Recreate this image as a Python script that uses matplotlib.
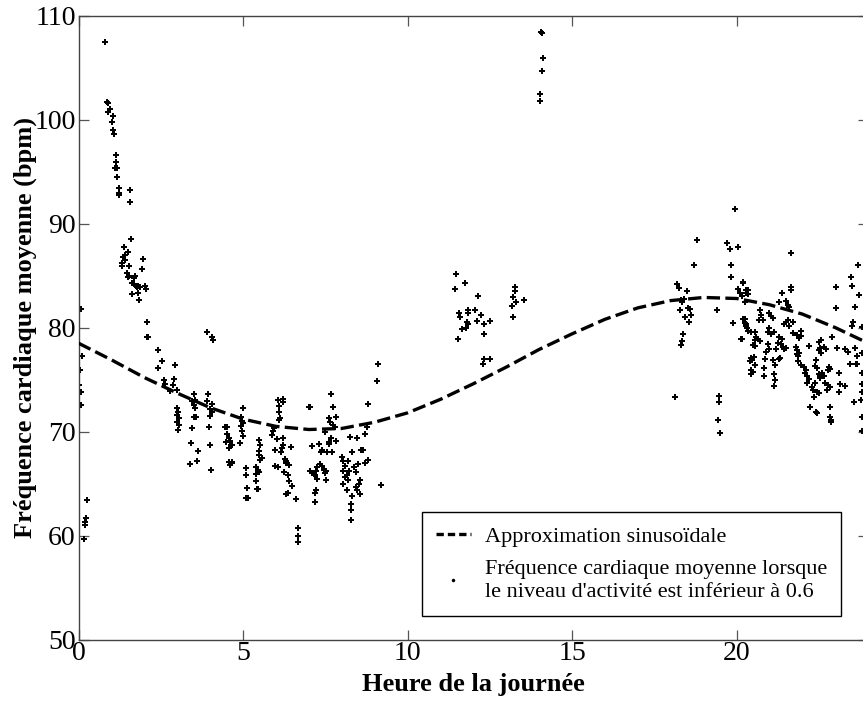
import matplotlib
matplotlib.use("Agg")
import matplotlib.pyplot as plt
from matplotlib.lines import Line2D

plt.rcParams['font.family'] = ['Liberation Serif', 'DejaVu Serif']

# Sinusoidal fit (hour -> bpm)
fit_hours = list(range(0, 25))
fit_bpm = [78.5, 76.9, 75.2, 73.7, 72.3, 71.2, 70.5, 70.2, 70.3, 70.9, 71.8,
           73.1, 74.6, 76.2, 77.9, 79.4, 80.8, 81.9, 82.6, 82.9, 82.8, 82.2,
           81.3, 80.0, 78.5]

# Mean heart rate while activity level < 0.6 (hour, bpm)
pts_early = [(0.04,75.9),(0.06,73.8),(0.07,72.6),(0.1,77.3),(0.08,81.8),(0.25,63.4),(0.23,61.7),
             (0.21,61.3),(0.21,61.0),(0.18,59.7),(0.02,74.5)]
pts_peak = [(0.81,107.5),(0.86,101.7),(0.9,101.6),(0.9,100.7),(0.95,101.0),(1.06,100.4),(1.01,99.75),
            (1.06,99.0),(1.09,98.6),(1.13,96.6),(1.13,95.9),(1.1,95.35),(1.17,95.35),(1.18,94.5),
            (1.23,93.4),(1.22,92.9),(1.24,92.8),(1.56,93.2),(1.56,92.05),(1.6,88.5),(1.39,87.8),
            (1.5,87.3),(1.4,87.0),(1.36,86.8),(1.42,86.5),(1.33,86.2),(1.32,85.9),(1.97,86.6),
            (1.93,85.6),(1.54,85.9),(1.47,85.3),(1.49,84.9),(1.52,85.0),(1.72,85.0),(1.7,84.8),
            (1.64,84.3),(1.68,84.2),(1.74,84.0),(1.78,83.9),(1.82,84.0),(1.87,83.9),(2.02,84.0),
            (2.05,83.7),(1.62,83.2),(1.8,83.3),(1.83,82.7),(2.08,80.5),(2.08,79.1),(2.12,79.1)]
pts_morning = [(2.42,77.8),(2.55,76.8),(2.42,76.1),(2.93,76.4),(2.6,75.0),(2.62,74.6),(2.91,75.1),
               (2.88,74.5),(2.98,74.0),(2.78,73.9),(3.0,72.3),(3.03,71.9),(2.98,71.6),(3.05,71.3),
               (3.0,70.9),(3.04,70.6),(3.02,70.2),(3.5,73.6),(3.46,72.9),(3.52,72.6),(3.54,72.3),
               (3.52,71.4),(3.92,73.6),(4.05,72.7),(3.99,72.2),(4.06,71.9),(3.89,79.6),(4.05,79.1),
               (4.08,78.8),(3.44,70.3),(3.96,70.4),(3.42,68.9),(3.62,68.1),(4.0,68.7),(3.4,66.9),
               (3.6,67.2),(4.02,66.3),(4.45,70.4),(4.52,70.4),(4.5,69.8),(4.56,69.4),(4.48,69.0),
               (4.6,69.1),(4.62,68.7),(4.58,68.4),(4.57,67.1),(4.65,67.1),(4.6,66.8),(4.65,68.7),
               (4.65,67.0),(3.55,73.0),(3.9,72.9),(4.0,71.5),(3.56,71.4)]
pts_five = [(5.0,72.3),(4.95,71.4),(4.98,71.0),(5.0,70.8),(4.95,70.5),(4.98,70.1),(5.0,69.6),
            (4.92,68.9),(5.1,66.5),(5.08,65.8),(5.12,64.6),(5.1,63.6),(5.15,63.6),(5.5,69.2),
            (5.53,68.7),(5.48,68.1),(5.5,67.7),(5.58,67.5),(5.53,67.3),(5.4,66.6),(5.45,66.3),
            (5.38,65.9),(5.5,66.1),(5.38,65.2),(5.42,64.5),(5.44,64.5)]
pts_six = [(5.9,70.1),(5.88,69.7),(5.95,70.3),(6.05,73.0),(6.1,72.5),(6.2,73.1),(6.22,72.8),
           (6.08,71.9),(6.12,71.3),(6.1,71.1),(6.02,69.3),(6.22,69.4),(5.98,68.2),(6.16,68.0),
           (6.18,68.4),(6.2,68.7),(6.05,66.6),(5.98,66.7),(6.27,67.4),(6.3,67.2),(6.32,67.0),
           (6.25,66.1),(6.38,65.8),(6.4,65.2),(6.5,64.8),(6.3,64.0),(6.37,64.1),(6.6,63.5),
           (6.66,60.7),(6.66,60.0),(6.67,59.4),(6.45,68.5),(6.4,66.8)]
pts_seven = [(7.0,72.4),(7.05,72.4),(7.1,68.6),(7.32,68.8),(7.4,68.2),(7.36,68.0),(7.56,68.0),
             (7.7,68.0),(7.6,68.8),(7.62,69.0),(7.66,69.4),(7.83,69.1),(7.05,66.2),(7.1,66.0),
             (7.15,65.9),(7.2,65.8),(7.22,66.2),(7.26,66.6),(7.34,66.9),(7.41,66.7),(7.45,66.3),
             (7.48,66.0),(7.52,66.2),(7.53,65.3),(7.26,65.4),(7.22,64.4),(7.19,64.1),(7.19,63.2),
             (7.66,73.6),(7.72,72.4),(7.62,71.3),(7.82,71.4),(7.63,70.9),(7.74,70.6),(7.79,70.4),
             (7.5,70.0)]
pts_eight = [(8.0,67.6),(8.05,67.2),(8.1,66.7),(8.05,66.2),(8.2,67.2),(8.22,66.2),(8.16,65.8),
             (8.1,65.6),(8.19,65.3),(8.05,65.0),(8.15,64.4),(8.38,66.6),(8.44,66.1),(8.49,66.9),
             (8.54,65.3),(8.52,65.0),(8.6,68.2),(8.65,68.2),(8.7,67.0),(8.8,67.3),(8.3,68.0),
             (8.42,64.7),(8.46,64.4),(8.28,63.0),(8.28,62.5),(8.28,61.5),(8.25,69.5),(8.45,69.4),
             (8.7,69.8),(8.76,70.4),(9.1,76.5),(9.08,74.9),(9.18,64.9),(8.8,72.7),(8.3,63.8),
             (8.55,64.0)]
pts_noon = [(11.47,85.2),(11.45,83.7),(11.74,84.3),(12.13,83.0),(11.55,81.4),(11.6,81.05),
            (11.85,81.7),(11.83,81.4),(12.04,81.7),(12.22,81.2),(11.8,80.5),(11.85,80.3),
            (12.1,80.6),(12.32,80.35),(12.5,80.6),(11.65,79.9),(11.78,80.0),(11.54,78.9),
            (12.33,79.4),(12.32,77.0),(12.5,77.0),(12.3,76.5),
            (13.26,83.9),(13.26,83.55),(13.2,82.9),(13.3,82.5),(13.54,82.7),(13.18,82.1),(13.2,81.0),
            (14.07,108.4),(14.09,108.3),(14.11,105.9),(14.1,104.65),(14.04,102.45),(14.02,101.8)]
pts_evening = [(18.14,73.3),(18.2,84.2),(18.25,83.8),(18.5,83.5),(18.3,82.7),(18.35,82.5),(18.4,82.8),
               (18.27,81.7),(18.53,81.9),(18.58,81.8),(18.42,81.05),(18.6,81.2),(18.55,80.5),
               (18.38,79.4),(18.35,78.7),(18.3,78.3),(18.7,86.0),(18.8,88.4),(19.4,81.7),(19.46,73.4),
               (19.46,72.8),(19.43,71.1),(19.49,69.9),(19.84,86.0),(19.84,84.85),(19.8,87.6),
               (19.95,91.4),(19.7,88.1),(20.05,87.8),(20.2,84.3),(20.05,83.7),(20.1,83.3),(20.3,83.6),
               (20.35,83.2),(20.15,83.0),(20.25,82.5),(19.9,80.4),(20.25,80.8),(20.3,80.3),(20.32,80.0),
               (20.35,79.7),(20.12,78.9)]
pts_night = [(20.2,84.4),(20.35,83.6),(20.3,83.3),(21.39,83.3),(21.64,83.6),(21.66,83.9),(21.64,87.15),
             (21.3,82.5),(21.5,82.6),(21.55,82.2),(21.6,82.0),(20.7,81.7),(20.75,81.2),(20.8,80.7),
             (20.68,80.7),(21.0,81.4),(21.05,81.1),(21.1,80.9),(20.2,80.8),(20.25,80.4),(20.3,80.2),
             (21.5,80.5),(21.55,80.7),(21.7,80.5),(21.6,80.2),(21.45,80.3),(21.0,80.0),(20.95,79.6),
             (21.15,79.6),(21.05,79.4),(20.45,79.6),(20.55,79.6),(20.6,79.1),(20.65,78.9),(20.55,78.8),
             (20.7,78.7),(20.15,78.9),(21.3,79.1),(21.38,78.9),(21.25,78.5),(21.35,78.4),(21.4,78.1),
             (21.7,79.5),(21.85,79.3),(21.95,79.7),(21.9,79.0),(21.95,79.2),(20.5,78.3),(20.55,78.2),
             (20.95,78.4),(21.0,77.9),(21.2,77.9),(21.45,77.9),(21.5,78.0),(21.8,78.1),(21.85,77.8),
             (21.9,77.6),(21.87,77.3),(22.2,78.2),(22.5,78.6),(22.58,78.8),(22.55,78.0),(22.5,77.8),
             (22.58,77.6),(22.65,78.1),(22.72,77.9),(22.9,79.1),(23.05,78.0),(23.3,77.9),(23.38,77.7),
             (23.5,80.2),(23.55,80.5),(23.6,78.0),(23.65,77.3),(23.62,76.5),(23.66,76.5),(23.45,76.5),
             (23.8,80.1),(23.8,77.6),(23.8,75.6),(23.8,74.6),(23.8,73.8),(23.77,73.0),(23.8,71.4),
             (23.8,70.1),(23.58,72.8),(20.45,77.1),(20.48,76.9),(20.52,77.2),(20.4,76.8),(20.55,76.4),
             (20.85,77.0),(20.83,76.1),(20.83,75.3),(20.9,77.7),(20.45,75.9),(20.45,75.5),(20.5,75.7),
             (21.1,76.9),(21.18,76.4),(21.15,75.5),(21.18,75.0),(21.15,74.4),(21.33,77.1),(21.28,77.0),
             (21.83,77.5),(21.87,76.8),(21.95,76.4),(22.05,76.2),(22.1,75.9),(22.08,75.6),(22.15,75.3),
             (22.2,75.1),(22.15,74.7),(22.4,76.9),(22.37,76.3),(22.45,76.1),(22.5,75.5),(22.6,75.6),
             (22.53,75.3),(22.55,75.2),(22.8,76.2),(22.85,76.0),(22.78,75.9),(22.65,75.3),(22.7,74.7),
             (22.78,74.5),(22.85,74.3),(22.75,74.0),(22.3,74.3),(22.33,74.0),(22.35,73.3),(22.45,73.8),
             (22.5,73.7),(22.38,74.7),(22.24,72.4),(22.43,71.8),(22.41,71.9),(22.85,72.4),(22.84,71.4),
             (22.86,71.1),(22.88,70.9),(23.1,75.6),(23.15,74.6),(23.1,73.8),(23.3,74.4),
             (23.7,86.0),(23.49,84.9),(23.5,84.0),(23.01,83.9),(23.01,81.9),(23.71,83.1),(23.59,82.0)]

groups = [pts_early, pts_peak, pts_morning, pts_five, pts_six, pts_seven, pts_eight,
          pts_noon, pts_evening, pts_night]
hours = [p[0] for g in groups for p in g]
bpm = [p[1] for g in groups for p in g]

fig = plt.figure(figsize=(8.63, 7.01), dpi=100)
ax = fig.add_axes([0.091, 0.0877, 0.915, 0.8899])

ax.plot(fit_hours, fit_bpm, color='black', lw=2.4, ls=(0, (4.0, 1.6)),
        dash_capstyle='butt', zorder=3)
ax.plot(hours, bpm, ls='none', marker='P', ms=4.0, mew=0, color='black', zorder=2)

ax.set_xlim(0, 24)
ax.set_ylim(50, 110)
ax.set_xticks([0, 5, 10, 15, 20])
ax.set_yticks([50, 60, 70, 80, 90, 100, 110])
ax.tick_params(direction='in', length=7, width=0.9, colors='#555555', labelcolor='black',
               labelsize=20, top=True, right=True)
ax.tick_params(axis='x', pad=1)
ax.tick_params(axis='y', pad=2)
for s in ax.spines.values():
    s.set_color('#444444')
    s.set_linewidth(1.0)

ax.set_xlabel('Heure de la journée', fontsize=19, fontweight='bold', labelpad=5)
ax.set_ylabel('Fréquence cardiaque moyenne (bpm)', fontsize=19, fontweight='bold', labelpad=-2)

fit_handle = Line2D([], [], color='black', lw=2.4, ls=(0, (2.2, 1.2)), dash_capstyle='butt')
dot_handle = Line2D([], [], ls='none', marker='.', ms=3, color='black')
leg = ax.legend([fit_handle, dot_handle],
                ['Approximation sinusoïdale',
                 "Fréquence cardiaque moyenne lorsque\nle niveau d'activité est inférieur à 0.6"],
                loc='lower right', bbox_to_anchor=(0.9658, 0.0377), fontsize=16,
                frameon=True, fancybox=False, edgecolor='black', framealpha=1,
                handlelength=1.55, handletextpad=0.65, borderpad=0.62, labelspacing=0.6,
                borderaxespad=0)
leg.get_frame().set_linewidth(1.0)
for t in leg.get_texts():
    t.set_linespacing(1.3)

fig.savefig('out.png', dpi=100)
